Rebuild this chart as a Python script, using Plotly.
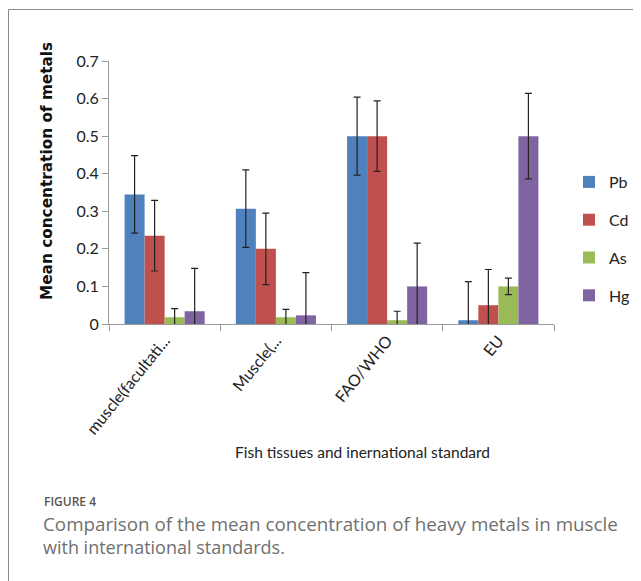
import plotly.graph_objects as go

categories = ["muscle(facultati...", "Muscle(...", "FAO/WHO", "EU"]
series_names = ["Pb", "Cd", "As", "Hg"]
pb = [0.345, 0.307, 0.500, 0.010]
cd = [0.235, 0.200, 0.500, 0.050]
as_ = [0.018, 0.018, 0.010, 0.100]
hg = [0.034, 0.023, 0.100, 0.500]
pb_err = [0.103, 0.103, 0.104, 0.103]
cd_err = [0.094, 0.095, 0.094, 0.095]
as_err = [0.023, 0.021, 0.024, 0.022]
hg_err = [0.114, 0.114, 0.115, 0.114]
y_ticks = [0, 0.1, 0.2, 0.3, 0.4, 0.5, 0.6, 0.7]
y_tick_labels = ["0", "0.1", "0.2", "0.3", "0.4", "0.5", "0.6", "0.7"]

colors = ["#4F81BD", "#C0504D", "#9BBB59", "#8064A2"]
values = [pb, cd, as_, hg]
errors = [pb_err, cd_err, as_err, hg_err]

tick_font = "Lato, sans-serif"

# page body has an 8px margin; work in screen pixels and subtract it
OFF = 8
W, H = 641, 581
L, R, T, B = 109 - OFF, 554 - OFF, 61 - OFF, 324 - OFF


def px_x(p):
    return (p - OFF - L) / (R - L)


def px_y(p):
    return (B - (p - OFF)) / (B - T)


fig = go.Figure()
for name, vals, errs, col in zip(series_names, values, errors, colors):
    fig.add_trace(go.Bar(
        x=categories, y=vals, name=name, legendgroup=name,
        marker=dict(color=col, line=dict(width=0)),
        error_y=dict(type="data", array=errs, visible=True,
                     color="#222222", thickness=1.2, width=3.5),
    ))

fig.update_layout(
    width=W, height=H,
    margin=dict(l=L, r=W - R, t=T, b=H - B, autoexpand=False),
    paper_bgcolor="white", plot_bgcolor="white",
    barmode="group", bargap=0.28, bargroupgap=0,
    showlegend=True,
    legend=dict(x=px_x(569), y=px_y(165), xanchor="left", yanchor="top",
                font=dict(family=tick_font, size=16, color="#222"),
                tracegroupgap=14, itemwidth=30, bgcolor="rgba(0,0,0,0)"),
    font=dict(family=tick_font, color="#222"),
)
fig.update_yaxes(
    range=[0, 0.7], tickvals=y_ticks, ticktext=y_tick_labels,
    showgrid=False, zeroline=False, automargin=False,
    showline=True, linecolor="#9a9a9a", linewidth=1,
    ticks="outside", ticklen=6, tickcolor="#9a9a9a",
    tickfont=dict(family=tick_font, size=16, color="#222"),
)
fig.update_xaxes(
    showgrid=False, showline=True, linecolor="#9a9a9a", linewidth=1,
    automargin=False,
    ticks="outside", ticklen=6, tickcolor="#9a9a9a", tickson="boundaries",
    tickangle=-51,
    tickfont=dict(family=tick_font, size=16, color="#222"),
)

# axis titles
fig.add_annotation(x=px_x(47), y=px_y(171), xref="paper", yref="paper",
                   text="<b>Mean concentration of metals</b>", textangle=-90,
                   showarrow=False, xanchor="center", yanchor="middle",
                   font=dict(family="DejaVu Sans", size=15.3, color="#111"))
fig.add_annotation(x=px_x(362), y=px_y(452), xref="paper", yref="paper",
                   text="Fish tissues and inernational standard", showarrow=False,
                   xanchor="center", yanchor="middle",
                   font=dict(family=tick_font, size=15.5, color="#222"))

# Caption
fig.add_annotation(x=px_x(42), y=px_y(501), xref="paper", yref="paper",
                   text="FIGURE 4", showarrow=False, xanchor="left", yanchor="middle",
                   font=dict(family="Open Sans", size=12, color="#5b534c", weight=600))
fig.add_annotation(x=px_x(41), y=px_y(524), xref="paper", yref="paper",
                   text="Comparison of the mean concentration of heavy metals in muscle",
                   showarrow=False, xanchor="left", yanchor="middle",
                   font=dict(family="Open Sans", size=18.8, color="#707070"))
fig.add_annotation(x=px_x(41), y=px_y(547), xref="paper", yref="paper",
                   text="with international standards.",
                   showarrow=False, xanchor="left", yanchor="middle",
                   font=dict(family="Open Sans", size=18, color="#707070"))

# border (top and left)
fig.add_shape(type="line", xref="paper", yref="paper",
              x0=px_x(8.5), x1=px_x(700), y0=px_y(9.5), y1=px_y(9.5),
              line=dict(color="#8a8a8a", width=1))
fig.add_shape(type="line", xref="paper", yref="paper",
              x0=px_x(8.5), x1=px_x(8.5), y0=px_y(9.5), y1=px_y(700),
              line=dict(color="#8a8a8a", width=1))

fig.write_html("out.html")
